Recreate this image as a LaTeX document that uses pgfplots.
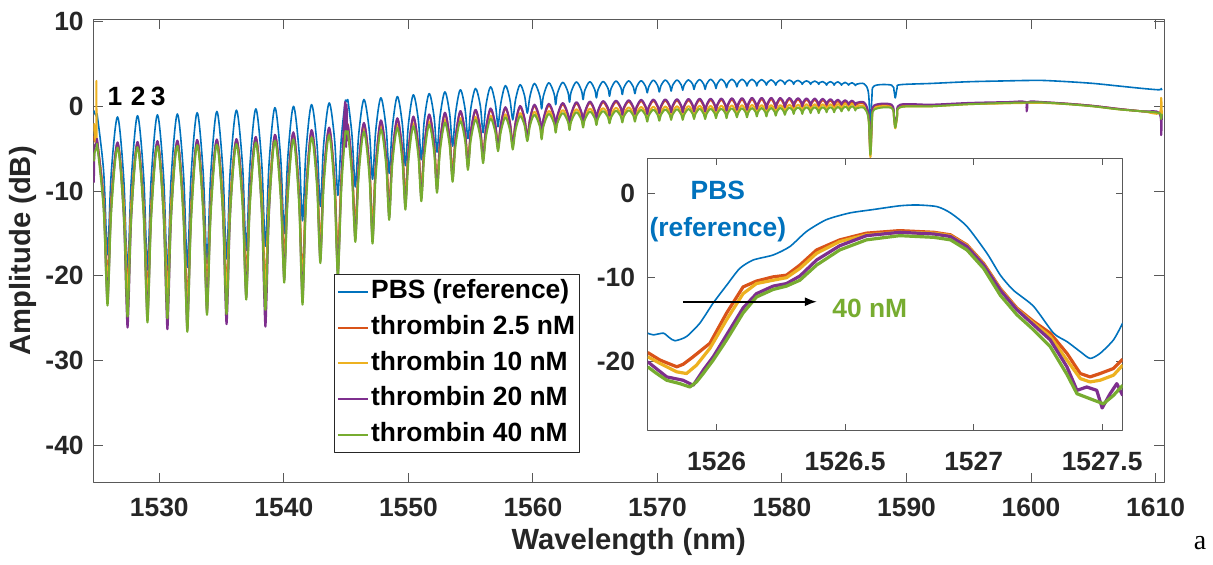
\documentclass[border=0pt]{standalone}
\usepackage{pgfplots}
\pgfplotsset{compat=1.18}
\usepackage{pgfplotstable}
\usetikzlibrary{arrows.meta}
\usepackage{fontspec}
\setmainfont{Liberation Sans}
\newfontfamily\serifa{Liberation Serif}
\definecolor{mblue}{RGB}{0,114,189}
\definecolor{morange}{RGB}{217,83,25}
\definecolor{myellow}{RGB}{237,177,32}
\definecolor{mpurple}{RGB}{126,47,142}
\definecolor{mgreen}{RGB}{119,172,48}
\definecolor{axgray}{gray}{0.35}
\definecolor{txgray}{gray}{0.15}

\pgfplotstableread{
x B O Y U G
1524.75 -0.5 -3.5 -2.0 -9.0 -6.5
1524.80 -0.8 -4.0 -3.0 -5.0 -5.5
1524.93 -1.1 -4.3 -4.0 -4.4 -5.0
1524.95 -1.2 -4.4 3.0 -4.3 -4.9
1524.97 -1.2 -4.4 -4.5 -4.3 -4.9
1525.04 -1.3 -4.45 -4.55 -4.3 -4.9
1525.52 -7.5 -10.6 -11.0 -11.5 -12.0
1525.73 -14.6 -17.8 -18.4 -19.8 -20.2
1525.84 -17.5 -20.7 -21.4 -23.2 -23.5
1525.95 -14.6 -17.8 -18.4 -19.8 -20.2
1526.16 -7.5 -10.6 -11.0 -11.5 -12.0
1526.65 -1.25 -4.4 -4.5 -4.25 -4.85
1527.13 -8.2 -11.0 -11.4 -12.6 -12.4
1527.34 -16.3 -18.7 -19.3 -22.2 -21.2
1527.45 -19.6 -21.8 -22.6 -26.1 -24.8
1527.56 -16.3 -18.7 -19.3 -22.2 -21.2
1527.77 -8.2 -11.0 -11.4 -12.6 -12.4
1528.25 -1.1 -4.35 -4.45 -4.2 -4.8
1528.73 -8.0 -11.2 -11.5 -12.2 -12.6
1528.94 -16.0 -19.1 -19.8 -21.4 -21.8
1529.05 -19.3 -22.4 -23.2 -25.2 -25.5
1529.16 -16.0 -19.1 -19.8 -21.4 -21.8
1529.37 -8.0 -11.2 -11.5 -12.2 -12.6
1529.85 -1.0 -4.3 -4.4 -4.1 -4.7
1530.33 -8.0 -11.0 -11.3 -12.5 -12.4
1530.54 -16.2 -18.8 -19.4 -22.3 -21.4
1530.65 -19.5 -22.0 -22.75 -26.3 -25.0
1530.76 -16.2 -18.8 -19.4 -22.3 -21.4
1530.97 -8.0 -11.0 -11.3 -12.5 -12.4
1531.45 -0.9 -4.2 -4.3 -4.05 -4.65
1531.93 -7.7 -11.5 -11.8 -12.5 -13.0
1532.14 -15.7 -19.9 -20.6 -22.3 -22.6
1532.25 -19.0 -23.4 -24.2 -26.3 -26.6
1532.36 -15.7 -19.9 -20.6 -22.3 -22.6
1532.57 -7.7 -11.5 -11.8 -12.5 -13.0
1533.04 -0.75 -4.1 -4.2 -3.95 -4.55
1533.51 -7.5 -10.8 -11.1 -11.7 -12.2
1533.72 -15.3 -18.5 -19.1 -20.6 -21.0
1533.83 -18.5 -21.6 -22.4 -24.3 -24.6
1533.94 -15.3 -18.5 -19.1 -20.6 -21.0
1534.15 -7.5 -10.8 -11.1 -11.7 -12.2
1534.62 -0.6 -4.05 -4.15 -3.9 -4.5
1535.09 -7.2 -10.7 -11.1 -12.2 -12.1
1535.29 -14.9 -18.4 -19.0 -21.8 -20.9
1535.40 -18.0 -21.6 -22.3 -25.7 -24.5
1535.51 -14.9 -18.4 -19.0 -21.8 -20.9
1535.71 -7.2 -10.7 -11.1 -12.2 -12.1
1536.19 -0.45 -4.0 -4.1 -3.85 -4.45
1536.67 -6.7 -10.0 -10.4 -10.8 -11.4
1536.87 -14.0 -17.2 -17.7 -19.1 -19.5
1536.98 -17.0 -20.1 -20.7 -22.5 -22.8
1537.09 -14.0 -17.2 -17.7 -19.1 -19.5
1537.29 -6.7 -10.0 -10.4 -10.8 -11.4
1537.75 -0.3 -3.75 -3.9 -3.6 -4.25
1538.21 -6.4 -10.3 -10.6 -12.0 -11.7
1538.41 -13.6 -18.0 -18.6 -21.9 -20.4
1538.52 -16.5 -21.1 -21.8 -26.0 -24.0
1538.63 -13.6 -18.0 -18.6 -21.9 -20.4
1538.83 -6.4 -10.3 -10.6 -12.0 -11.7
1539.28 -0.15 -3.5 -3.7 -3.35 -4.05
1539.73 -5.8 -9.0 -9.5 -9.8 -10.4
1539.93 -12.3 -15.6 -16.2 -17.4 -17.8
1540.03 -15.0 -18.3 -18.9 -20.5 -20.8
1540.13 -12.3 -15.6 -16.2 -17.4 -17.8
1540.33 -5.8 -9.0 -9.5 -9.8 -10.4
1540.77 0.0 -3.2 -3.5 -3.05 -3.9
1541.21 -5.1 -9.7 -10.2 -10.6 -11.2
1541.40 -11.1 -17.4 -18.1 -19.5 -19.9
1541.50 -13.5 -20.6 -21.3 -23.1 -23.4
1541.60 -11.1 -17.4 -18.1 -19.5 -19.9
1541.79 -5.1 -9.7 -10.2 -10.6 -11.2
1542.22 0.2 -2.95 -3.3 -2.8 -3.65
1542.65 -4.3 -7.9 -8.3 -8.5 -9.2
1542.83 -9.6 -13.9 -14.3 -15.4 -15.8
1542.93 -11.8 -16.3 -16.8 -18.2 -18.5
1543.03 -9.6 -13.9 -14.3 -15.4 -15.8
1543.21 -4.3 -7.9 -8.3 -8.5 -9.2
1543.64 0.4 -2.65 -3.05 -2.5 -3.4
1544.06 -3.7 -8.3 -8.8 -9.0 -9.7
1544.24 -8.5 -15.0 -15.6 -16.7 -17.2
1544.34 -10.5 -17.8 -18.4 -19.9 -20.2
1544.44 -8.5 -15.0 -15.6 -16.7 -17.2
1544.62 -3.7 -8.3 -8.8 -9.0 -9.7
1544.92 0.45 -2.5 -3.0 0.5 -3.35
1545.00 0.55 -2.4 -2.9 -4.8 -3.25
1545.04 0.6 -2.35 -2.85 0.2 -3.2
1545.10 0.6 -2.35 -2.85 -4.0 -3.2
1545.16 0.55 -2.4 -2.9 -2.3 -3.25
1545.46 -3.2 -6.7 -7.3 -7.2 -8.0
1545.64 -7.7 -12.0 -12.5 -13.2 -13.7
1545.74 -9.5 -14.1 -14.6 -15.7 -16.0
1545.84 -7.7 -12.0 -12.5 -13.2 -13.7
1546.02 -3.2 -6.7 -7.3 -7.2 -8.0
1546.43 0.8 -2.1 -2.6 -1.95 -3.0
1546.85 -2.7 -6.6 -7.1 -7.1 -7.9
1547.03 -6.9 -12.1 -12.5 -13.4 -13.8
1547.12 -8.6 -14.3 -14.7 -15.9 -16.2
1547.22 -6.9 -12.1 -12.5 -13.4 -13.8
1547.39 -2.7 -6.6 -7.1 -7.1 -7.9
1547.79 1.0 -1.8 -2.4 -1.65 -2.75
1548.20 -2.4 -5.5 -6.1 -5.9 -6.7
1548.37 -6.3 -10.0 -10.4 -11.0 -11.5
1548.46 -7.9 -11.8 -12.2 -13.1 -13.4
1548.55 -6.3 -10.0 -10.4 -11.0 -11.5
1548.72 -2.4 -5.5 -6.1 -5.9 -6.7
1549.11 1.15 -1.55 -2.2 -1.4 -2.55
1549.50 -1.9 -4.9 -5.5 -5.3 -6.2
1549.67 -5.5 -9.0 -9.5 -10.0 -10.4
1549.76 -7.0 -10.7 -11.1 -11.9 -12.2
1549.85 -5.5 -9.0 -9.5 -10.0 -10.4
1550.02 -1.9 -4.9 -5.5 -5.3 -6.2
1550.40 1.35 -1.35 -2.0 -1.2 -2.35
1550.79 -1.5 -4.5 -5.1 -4.8 -5.7
1550.95 -4.9 -8.3 -8.7 -9.1 -9.6
1551.04 -6.3 -9.9 -10.2 -10.9 -11.2
1551.13 -4.9 -8.3 -8.7 -9.1 -9.6
1551.29 -1.5 -4.5 -5.1 -4.8 -5.7
1551.67 1.5 -1.1 -1.8 -0.95 -2.15
1552.05 -1.1 -4.0 -4.6 -4.3 -5.2
1552.21 -4.1 -7.6 -7.9 -8.3 -8.7
1552.30 -5.4 -9.0 -9.3 -9.9 -10.2
1552.39 -4.1 -7.6 -7.9 -8.3 -8.7
1552.55 -1.1 -4.0 -4.6 -4.3 -5.2
1552.93 1.7 -0.9 -1.6 -0.75 -1.95
1553.30 -0.7 -3.5 -4.0 -3.7 -4.5
1553.46 -3.5 -6.5 -6.9 -7.2 -7.6
1553.55 -4.7 -7.8 -8.1 -8.6 -8.9
1553.64 -3.5 -6.5 -6.9 -7.2 -7.6
1553.80 -0.7 -3.5 -4.0 -3.7 -4.5
1554.17 1.95 -0.7 -1.4 -0.55 -1.75
1554.54 -0.2 -2.9 -3.4 -3.0 -3.9
1554.70 -2.8 -5.5 -5.8 -6.0 -6.4
1554.78 -3.8 -6.6 -6.8 -7.2 -7.5
1554.87 -2.8 -5.5 -5.8 -6.0 -6.4
1555.02 -0.2 -2.9 -3.4 -3.0 -3.9
1555.39 2.1 -0.55 -1.25 -0.4 -1.6
1555.76 0.2 -2.5 -3.0 -2.6 -3.5
1555.92 -2.2 -4.9 -5.2 -5.3 -5.8
1556.00 -3.1 -5.9 -6.1 -6.4 -6.7
1556.08 -2.2 -4.9 -5.2 -5.3 -5.8
1556.24 0.2 -2.5 -3.0 -2.6 -3.5
1556.60 2.3 -0.4 -1.1 -0.25 -1.45
1556.96 0.5 -2.0 -2.4 -2.0 -2.9
1557.12 -1.5 -3.9 -4.1 -4.1 -4.6
1557.20 -2.4 -4.7 -4.8 -5.0 -5.3
1557.28 -1.5 -3.9 -4.1 -4.1 -4.6
1557.44 0.5 -2.0 -2.4 -2.0 -2.9
1557.79 2.45 -0.25 -0.95 -0.1 -1.3
1558.14 0.9 -1.8 -2.3 -1.8 -2.7
1558.30 -0.9 -3.7 -3.9 -3.9 -4.4
1558.38 -1.6 -4.5 -4.6 -4.8 -5.1
1558.46 -0.9 -3.7 -3.9 -3.9 -4.4
1558.62 0.9 -1.8 -2.3 -1.8 -2.7
1558.97 2.55 -0.1 -0.8 0.05 -1.15
1559.32 1.3 -1.4 -1.8 -1.4 -2.2
1559.47 -0.2 -3.0 -3.2 -3.1 -3.6
1559.55 -0.8 -3.6 -3.7 -3.8 -4.1
1559.63 -0.2 -3.0 -3.2 -3.1 -3.6
1559.78 1.3 -1.4 -1.8 -1.4 -2.2
1560.13 2.7 0.05 -0.65 0.2 -1.0
1560.56 1.2 -1.7 -2.15 -1.5 -2.4
1560.70 -0.3 -3.5 -3.7 -3.3 -3.9
1560.84 1.2 -1.7 -2.15 -1.5 -2.4
1561.27 2.78 0.12 -0.55 0.3 -0.9
1561.70 1.5 -1.25 -1.7 -1.1 -2.0
1561.83 0.2 -2.7 -2.9 -2.5 -3.1
1561.96 1.5 -1.25 -1.7 -1.1 -2.0
1562.39 2.83 0.25 -0.45 0.4 -0.8
1562.81 1.7 -1.05 -1.5 -0.9 -1.8
1562.94 0.5 -2.4 -2.6 -2.2 -2.8
1563.07 1.7 -1.05 -1.5 -0.9 -1.8
1563.49 2.88 0.35 -0.35 0.5 -0.7
1563.90 1.85 -0.85 -1.3 -0.7 -1.6
1564.03 0.8 -2.1 -2.3 -1.9 -2.5
1564.16 1.85 -0.85 -1.3 -0.7 -1.6
1564.57 2.9 0.42 -0.28 0.57 -0.63
1564.97 1.95 -0.65 -1.1 -0.5 -1.4
1565.10 1.0 -1.8 -2.0 -1.6 -2.2
1565.23 1.95 -0.65 -1.1 -0.5 -1.4
1565.63 2.93 0.47 -0.22 0.62 -0.57
1566.03 2.1 -0.4 -1.0 -0.2 -1.3
1566.15 1.2 -1.3 -1.8 -1.1 -2.0
1566.28 2.1 -0.4 -1.0 -0.2 -1.3
1566.67 2.98 0.52 -0.18 0.67 -0.52
1567.06 2.2 -0.3 -0.9 -0.15 -1.2
1567.18 1.4 -1.2 -1.7 -1.0 -1.9
1567.30 2.2 -0.3 -0.9 -0.15 -1.2
1567.69 3.0 0.57 -0.13 0.72 -0.48
1568.07 2.25 -0.25 -0.85 -0.1 -1.1
1568.19 1.5 -1.1 -1.6 -0.9 -1.8
1568.31 2.25 -0.25 -0.85 -0.1 -1.1
1568.69 3.02 0.62 -0.08 0.77 -0.43
1569.06 2.3 -0.2 -0.8 -0.05 -1.1
1569.18 1.6 -1.1 -1.6 -0.9 -1.8
1569.30 2.3 -0.2 -0.8 -0.05 -1.1
1569.67 3.08 0.65 -0.05 0.8 -0.4
1570.03 2.4 -0.15 -0.75 0.0 -1.05
1570.15 1.7 -1.0 -1.5 -0.8 -1.7
1570.27 2.4 -0.15 -0.75 0.0 -1.05
1570.63 3.1 0.67 -0.03 0.82 -0.38
1570.99 2.45 -0.1 -0.7 0.05 -1.0
1571.10 1.8 -0.9 -1.4 -0.7 -1.6
1571.21 2.45 -0.1 -0.7 0.05 -1.0
1571.57 3.1 0.7 0.0 0.85 -0.35
1571.92 2.5 -0.1 -0.7 0.05 -1.0
1572.03 1.9 -0.9 -1.4 -0.7 -1.6
1572.14 2.5 -0.1 -0.7 0.05 -1.0
1572.49 3.12 0.72 0.02 0.87 -0.33
1572.83 2.6 0.0 -0.6 0.15 -0.9
1572.94 2.0 -0.8 -1.3 -0.6 -1.5
1573.05 2.6 0.0 -0.6 0.15 -0.9
1573.39 3.15 0.75 0.05 0.9 -0.3
1573.72 2.6 0.0 -0.6 0.15 -0.9
1573.83 2.0 -0.8 -1.3 -0.6 -1.5
1573.94 2.6 0.0 -0.6 0.15 -0.9
1574.27 3.18 0.75 0.05 0.9 -0.3
1574.60 2.65 0.05 -0.6 0.2 -0.85
1574.70 2.1 -0.7 -1.2 -0.5 -1.4
1574.80 2.65 0.05 -0.6 0.2 -0.85
1575.13 3.2 0.77 0.07 0.92 -0.28
1575.45 2.7 0.05 -0.55 0.2 -0.8
1575.55 2.2 -0.7 -1.2 -0.5 -1.4
1575.65 2.7 0.05 -0.55 0.2 -0.8
1575.97 3.2 0.8 0.1 0.95 -0.25
1576.28 2.75 0.1 -0.5 0.3 -0.8
1576.38 2.3 -0.6 -1.1 -0.4 -1.3
1576.48 2.75 0.1 -0.5 0.3 -0.8
1576.79 3.2 0.82 0.12 0.97 -0.23
1577.09 2.8 0.1 -0.5 0.3 -0.75
1577.19 2.4 -0.6 -1.1 -0.4 -1.3
1577.29 2.8 0.1 -0.5 0.3 -0.75
1577.59 3.18 0.85 0.15 1.0 -0.2
1577.89 2.8 0.15 -0.4 0.35 -0.7
1577.98 2.4 -0.5 -1.0 -0.3 -1.2
1578.07 2.8 0.15 -0.4 0.35 -0.7
1578.37 3.15 0.85 0.15 1.0 -0.2
1578.66 2.8 0.15 -0.4 0.35 -0.7
1578.75 2.5 -0.5 -1.0 -0.3 -1.2
1578.84 2.8 0.15 -0.4 0.35 -0.7
1579.13 3.12 0.85 0.15 1.0 -0.2
1579.41 2.8 0.2 -0.4 0.4 -0.65
1579.50 2.5 -0.4 -0.9 -0.2 -1.1
1579.59 2.8 0.2 -0.4 0.4 -0.65
1579.87 3.1 0.85 0.15 1.0 -0.18
1580.14 2.85 0.25 -0.3 0.45 -0.6
1580.23 2.6 -0.3 -0.8 -0.1 -1.0
1580.32 2.85 0.25 -0.3 0.45 -0.6
1580.59 3.1 0.85 0.2 1.0 -0.15
1580.86 2.85 0.3 -0.25 0.5 -0.5
1580.94 2.6 -0.2 -0.7 0.0 -0.9
1581.02 2.85 0.3 -0.25 0.5 -0.5
1581.29 3.05 0.83 0.2 0.98 -0.13
1581.55 2.8 0.3 -0.2 0.5 -0.5
1581.63 2.6 -0.2 -0.7 0.0 -0.9
1581.71 2.8 0.3 -0.2 0.5 -0.5
1581.97 3.0 0.8 0.25 0.95 -0.1
1582.22 2.8 0.35 -0.2 0.5 -0.45
1582.30 2.6 -0.1 -0.6 0.1 -0.8
1582.38 2.8 0.35 -0.2 0.5 -0.45
1582.63 2.98 0.78 0.25 0.93 -0.1
1582.87 2.8 0.3 -0.2 0.5 -0.45
1582.95 2.6 -0.1 -0.6 0.1 -0.8
1583.03 2.8 0.3 -0.2 0.5 -0.45
1583.27 2.92 0.75 0.25 0.9 -0.1
1583.51 2.7 0.35 -0.15 0.5 -0.4
1583.58 2.5 0.0 -0.5 0.2 -0.7
1583.65 2.7 0.35 -0.15 0.5 -0.4
1583.89 2.9 0.7 0.25 0.85 -0.1
1584.12 2.7 0.3 -0.15 0.5 -0.4
1584.19 2.5 0.0 -0.5 0.2 -0.7
1584.26 2.7 0.3 -0.15 0.5 -0.4
1584.49 2.88 0.62 0.27 0.78 -0.08
1584.71 2.65 0.3 -0.05 0.45 -0.35
1584.78 2.5 0.0 -0.4 0.2 -0.6
1584.85 2.65 0.3 -0.05 0.45 -0.35
1585.07 2.82 0.57 0.3 0.72 -0.03
1585.28 2.65 0.3 0.0 0.45 -0.25
1585.35 2.5 0.0 -0.3 0.2 -0.5
1585.42 2.65 0.3 0.0 0.45 -0.25
1585.63 2.78 0.52 0.3 0.67 0.0
1585.83 2.6 0.25 0.0 0.4 -0.25
1585.90 2.45 0.0 -0.3 0.15 -0.5
1585.97 2.6 0.25 0.0 0.4 -0.25
1586.60 2.65 0.3 0.0 0.45 -0.2
1586.95 1.5 -1.1 -1.3 -1.0 -1.5
1587.10 -2.8 -5.5 -6.0 -5.3 -5.7
1587.22 1.0 -1.6 -1.8 -1.5 -2.0
1587.40 2.4 0.0 -0.2 0.1 -0.4
1588.80 2.5 0.0 -0.1 0.2 -0.2
1589.00 1.8 -1.3 -1.4 -1.2 -1.5
1589.10 1.0 -2.4 -2.6 -2.3 -2.5
1589.25 2.2 -1.1 -1.2 -1.0 -1.2
1589.50 2.55 0.0 -0.1 0.2 -0.1
1592.00 2.7 0.1 0.0 0.2 0.0
1595.00 2.9 0.3 0.25 0.4 0.25
1598.00 3.0 0.4 0.35 0.5 0.4
1599.60 3.05 0.45 0.4 0.5 0.45
1599.65 3.05 0.45 0.4 -0.6 0.45
1599.75 3.05 0.45 0.4 0.5 0.45
1601.00 3.05 0.45 0.4 0.5 0.45
1603.00 2.9 0.3 0.25 0.3 0.25
1605.00 2.7 0.05 0.0 0.05 0.0
1607.00 2.4 -0.3 -0.35 -0.3 -0.35
1609.00 2.1 -0.6 -0.6 -0.6 -0.6
1610.30 1.95 -0.75 -0.8 -0.8 -0.8
1610.45 2.1 -0.5 1.0 -3.4 -1.5
1610.50 1.9 -1.0 -1.0 -1.0 -0.9
}\maindata

\newcommand{\tickfont}{\fontsize{13.2}{15.8}\selectfont\bfseries}
\newcommand{\labfont}{\fontsize{14.6}{17}\selectfont\bfseries}

\begin{document}
\begin{tikzpicture}
\useasboundingbox (-46.65pt,-40.65pt) rectangle (559.85pt,241.35pt);
\begin{axis}[
  at={(0pt,0pt)}, anchor=south west,
  scale only axis, width=535.5pt, height=231.85pt,
  xmin=1524.7, xmax=1610.7, ymin=-44.4, ymax=10.3,
  xtick={1530,1540,...,1610},
  xticklabels={1530,1540,1550,1560,1570,1580,1590,1600,1610},
  ytick={-40,-30,-20,-10,0,10},
  yticklabels={-40,-30,-20,-10,0,10},
  tick pos=both, xticklabel pos=lower, yticklabel pos=left,
  tick align=inside, major tick length=5pt,
  every tick/.style={axgray, line width=0.5pt},
  axis line style={axgray, line width=0.5pt},
  ticklabel style={font=\tickfont, text=txgray},
  xticklabel style={yshift=-4.3pt},
  yticklabel style={xshift=-1.3pt},
  xlabel={Wavelength (nm)}, ylabel={Amplitude (dB)},
  xlabel style={at={(axis description cs:0.5,-0.1279)}, anchor=center, font=\labfont, text=txgray},
  ylabel style={at={(axis description cs:-0.0656,0.5)}, anchor=center, font=\labfont, text=txgray},
  legend style={at={(0.225,0.45)}, anchor=north west, draw=txgray, line width=0.5pt,
    fill=white, font=\tickfont, inner sep=1pt, row sep=2.2pt,
    nodes={inner sep=1.2pt, text height=10pt, text depth=3.2pt}},
  legend cell align=left,
  legend image code/.code={\draw[#1, line width=1pt] (0pt,0pt) -- (15pt,0pt);},
  line join=round,
]
\addplot[mblue, line width=0.8pt, smooth, tension=0.55] table[x=x,y=B]{\maindata};
\addplot[morange, line width=1pt, smooth, tension=0.55] table[x=x,y=O]{\maindata};
\addplot[myellow, line width=1pt, smooth, tension=0.55] table[x=x,y=Y]{\maindata};
\addplot[mpurple, line width=1pt, smooth, tension=0.55] table[x=x,y=U]{\maindata};
\addplot[mgreen, line width=1pt, smooth, tension=0.55] table[x=x,y=G]{\maindata};
\legend{PBS (reference), thrombin 2.5 nM, thrombin 10 nM, thrombin 20 nM, thrombin 40 nM}
\node[font=\tickfont, text=black] at (axis cs:1526.44,1.17) {1};
\node[font=\tickfont, text=black] at (axis cs:1528.31,1.17) {2};
\node[font=\tickfont, text=black] at (axis cs:1529.92,1.17) {3};
\end{axis}

\begin{axis}[
  at={(277.2pt,26.0pt)}, anchor=south west,
  scale only axis, width=237.5pt, height=136.2pt,
  xmin=1525.732, xmax=1527.58, ymin=-28.2, ymax=4.2,
  xtick={1526,1526.5,1527,1527.5},
  xticklabels={1526,1526.5,1527,1527.5},
  ytick={-20,-10,0}, yticklabels={-20,-10,0},
  tick pos=both, xticklabel pos=lower, yticklabel pos=left,
  tick align=inside, major tick length=3.5pt,
  every tick/.style={axgray, line width=0.5pt},
  axis line style={axgray, line width=0.5pt},
  axis background/.style={fill=white},
  ticklabel style={font=\tickfont, text=txgray},
  xticklabel style={yshift=-6.9pt},
  yticklabel style={xshift=-2.8pt},
  line join=round,
]
\addplot[mblue, line width=0.8pt, smooth, tension=0.4] coordinates {
(1525.732,-16.6) (1525.754,-16.8) (1525.793,-16.6) (1525.815,-17.1) (1525.838,-17.5)
(1525.883,-17.0) (1525.935,-15.4) (1525.987,-13.0) (1526.039,-10.9) (1526.09,-8.9)
(1526.142,-7.9) (1526.22,-7.3) (1526.285,-6.3) (1526.35,-4.5) (1526.427,-3.1)
(1526.518,-2.3) (1526.608,-1.9) (1526.712,-1.45) (1526.78,-1.35) (1526.858,-1.55)
(1526.91,-2.3) (1526.974,-3.9) (1527.052,-7.1) (1527.104,-9.7) (1527.155,-11.5)
(1527.233,-13.4) (1527.311,-16.6) (1527.363,-17.6) (1527.415,-18.8) (1527.453,-19.6)
(1527.492,-19.0) (1527.544,-17.4) (1527.58,-15.4)};
\addplot[morange, line width=1.6pt] coordinates {
(1525.732,-18.9) (1525.78,-19.8) (1525.845,-20.6) (1525.87,-20.3) (1525.909,-19.4)
(1525.974,-17.8) (1526.039,-14.2) (1526.103,-11.1) (1526.155,-10.4) (1526.22,-9.9)
(1526.272,-9.7) (1526.324,-8.5) (1526.389,-6.7) (1526.479,-5.5) (1526.583,-4.7)
(1526.712,-4.4) (1526.845,-4.6) (1526.91,-4.9) (1526.974,-6.1) (1527.039,-8.3)
(1527.104,-11.3) (1527.168,-13.6) (1527.233,-15.2) (1527.298,-16.6) (1527.363,-19.0)
(1527.415,-21.4) (1527.453,-21.8) (1527.492,-21.4) (1527.544,-20.8) (1527.58,-19.7)};
\addplot[myellow, line width=1.6pt] coordinates {
(1525.732,-19.4) (1525.78,-20.2) (1525.845,-21.2) (1525.883,-21.4) (1525.922,-20.4)
(1525.974,-18.4) (1526.039,-15.0) (1526.103,-11.9) (1526.155,-10.7) (1526.22,-10.3)
(1526.272,-10.0) (1526.324,-8.9) (1526.389,-7.1) (1526.479,-5.7) (1526.583,-4.9)
(1526.712,-4.6) (1526.845,-4.7) (1526.91,-5.0) (1526.974,-6.2) (1527.039,-8.4)
(1527.104,-11.4) (1527.168,-13.7) (1527.233,-15.4) (1527.298,-17.0) (1527.363,-19.8)
(1527.415,-22.0) (1527.453,-22.4) (1527.492,-22.2) (1527.544,-21.6) (1527.58,-20.4)};
\addplot[mpurple, line width=1.6pt] coordinates {
(1525.732,-20.0) (1525.806,-21.8) (1525.87,-22.2) (1525.909,-22.8) (1525.948,-21.0)
(1525.987,-19.4) (1526.039,-16.8) (1526.103,-13.6) (1526.155,-11.9) (1526.22,-11.0)
(1526.272,-10.7) (1526.324,-9.8) (1526.389,-7.9) (1526.479,-6.2) (1526.583,-5.0)
(1526.712,-4.6) (1526.845,-4.8) (1526.91,-5.1) (1526.974,-6.3) (1527.039,-8.5)
(1527.104,-11.5) (1527.168,-13.8) (1527.233,-15.6) (1527.298,-17.4) (1527.363,-20.6)
(1527.402,-23.4) (1527.44,-23.0) (1527.479,-23.4) (1527.50,-25.5) (1527.531,-23.8)
(1527.557,-22.6) (1527.58,-24.0)};
\addplot[mgreen, line width=1.6pt] coordinates {
(1525.732,-20.6) (1525.767,-21.4) (1525.806,-22.2) (1525.857,-22.6) (1525.896,-23.0)
(1525.922,-22.4) (1525.948,-21.4) (1525.987,-19.8) (1526.039,-17.4) (1526.103,-14.2)
(1526.155,-12.3) (1526.22,-11.4) (1526.272,-11.0) (1526.324,-10.3) (1526.389,-8.5)
(1526.479,-6.7) (1526.583,-5.5) (1526.712,-5.0) (1526.845,-5.2) (1526.91,-5.5)
(1526.974,-6.7) (1527.039,-8.9) (1527.104,-12.1) (1527.168,-14.4) (1527.233,-16.2)
(1527.298,-18.2) (1527.363,-21.5) (1527.402,-23.8) (1527.453,-24.4) (1527.505,-25.0)
(1527.544,-24.0) (1527.58,-22.8)};
\node[font=\tickfont, text=mblue] at (axis cs:1526.005,0.44) {PBS};
\node[font=\tickfont, text=mblue] at (axis cs:1526.005,-4.3) {(reference)};
\draw[-{Latex[length=6pt,width=4.5pt]}, line width=0.8pt, black] (axis cs:1525.869,-12.86) -- (axis cs:1526.39,-12.86);
\node[font=\tickfont, text=mgreen] at (axis cs:1526.596,-13.6) {40 nM};
\end{axis}
\node[font=\serifa\fontsize{14}{16}\selectfont] at (553.35pt,-30.15pt) {a};
\end{tikzpicture}
\end{document}
